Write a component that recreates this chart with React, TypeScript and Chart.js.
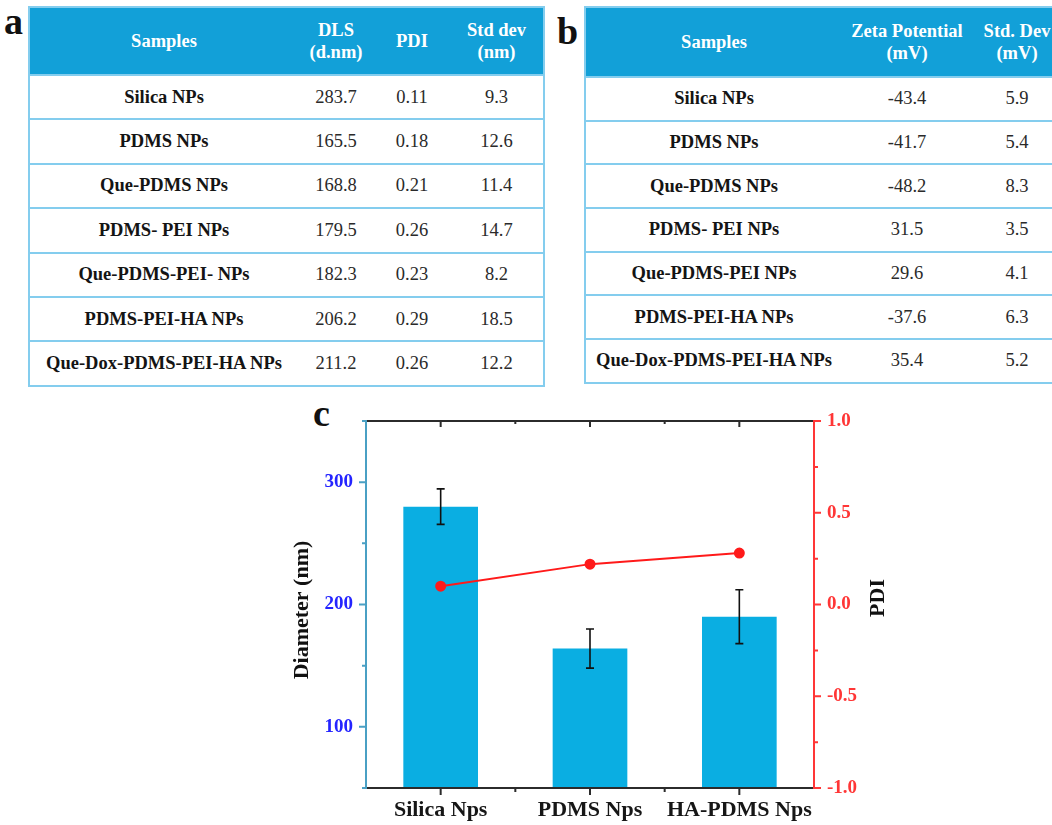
import React, { useEffect, useRef } from 'react';
import { Chart, registerables } from 'chart.js';

Chart.register(...registerables);

// ---- Table (a): DLS size, PDI and standard deviation ----
const tableAHeaders = ['Samples', 'DLS\n(d.nm)', 'PDI', 'Std dev\n(nm)'];
const tableASamples = [
  'Silica NPs',
  'PDMS NPs',
  'Que-PDMS NPs',
  'PDMS- PEI NPs',
  'Que-PDMS-PEI- NPs',
  'PDMS-PEI-HA NPs',
  'Que-Dox-PDMS-PEI-HA NPs',
];
const tableADls = ['283.7', '165.5', '168.8', '179.5', '182.3', '206.2', '211.2'];
const tableAPdi = ['0.11', '0.18', '0.21', '0.26', '0.23', '0.29', '0.26'];
const tableAStd = ['9.3', '12.6', '11.4', '14.7', '8.2', '18.5', '12.2'];

// ---- Table (b): zeta potential ----
const tableBHeaders = ['Samples', 'Zeta Potential\n(mV)', 'Std. Dev\n(mV)'];
const tableBSamples = [
  'Silica NPs',
  'PDMS NPs',
  'Que-PDMS NPs',
  'PDMS- PEI NPs',
  'Que-PDMS-PEI NPs',
  'PDMS-PEI-HA NPs',
  'Que-Dox-PDMS-PEI-HA NPs',
];
const tableBZeta = ['-43.4', '-41.7', '-48.2', '31.5', '29.6', '-37.6', '35.4'];
const tableBStd = ['5.9', '5.4', '8.3', '3.5', '4.1', '6.3', '5.2'];

// ---- Chart (c): diameter bars with error bars, PDI line ----
const categories = ['Silica Nps', 'PDMS Nps', 'HA-PDMS Nps'];
const diameters = [280, 164, 190];
const diameterErrors = [14.5, 16, 22];
const pdiValues = [0.1, 0.22, 0.28];

const SERIF = '"Liberation Serif", "Times New Roman", serif';
const HEADER_BG = '#12a0d8';
const TABLE_LINE = '#84cdee';
const BAR_COLOR = '#0aaee2';
const LEFT_AXIS_COLOR = '#4aa0c4';
const RIGHT_AXIS_COLOR = '#ff3636';
const PDI_COLOR = '#ff1a1a';

type TableProps = {
  left: number;
  top: number;
  width: number;
  headerHeight: number;
  rowHeight: number;
  colWidths: number[];
  headers: string[];
  rows: string[][];
  showRight: boolean;
};

function DataTable(props: TableProps) {
  const { left, top, width, headerHeight, rowHeight, colWidths, headers, rows, showRight } = props;
  return (
    <div
      style={{
        position: 'absolute',
        left,
        top,
        width,
        boxSizing: 'border-box',
        border: `2px solid ${TABLE_LINE}`,
        borderRight: showRight ? `2px solid ${TABLE_LINE}` : 'none',
        fontFamily: SERIF,
        fontSize: 18.5,
        background: '#fff',
      }}
    >
      <div style={{ display: 'flex', height: headerHeight, background: HEADER_BG }}>
        {headers.map((h, i) => (
          <div
            key={i}
            style={{
              width: colWidths[i],
              flex: 'none',
              display: 'flex',
              alignItems: 'center',
              justifyContent: 'center',
              textAlign: 'center',
              whiteSpace: 'pre',
              lineHeight: '22px',
              color: '#ffffff',
              fontWeight: 'bold',
            }}
          >
            {h}
          </div>
        ))}
      </div>
      {rows.map((r, ri) => (
        <div
          key={ri}
          style={{
            display: 'flex',
            height: rowHeight,
            boxSizing: 'border-box',
            borderTop: `2px solid ${TABLE_LINE}`,
          }}
        >
          {r.map((c, ci) => (
            <div
              key={ci}
              style={{
                width: colWidths[ci],
                flex: 'none',
                display: 'flex',
                alignItems: 'center',
                justifyContent: 'center',
                whiteSpace: 'pre',
                color: ci === 0 ? '#141414' : '#2a2a2a',
                fontWeight: ci === 0 ? 'bold' : 'normal',
              }}
            >
              {c}
            </div>
          ))}
        </div>
      ))}
    </div>
  );
}

// Axis frame, minor/major ticks, error bars and rotated axis titles
const framePlugin = {
  id: 'frame',
  afterDatasetDraw(chart: any, args: any) {
    const meta = args.meta;
    if (meta.type !== 'bar') return;
    const ctx = chart.ctx;
    const yScale = chart.scales.y;
    ctx.save();
    ctx.strokeStyle = '#111';
    ctx.lineWidth = 1.6;
    meta.data.forEach((el: any, i: number) => {
      const x = el.x;
      const yTop = yScale.getPixelForValue(diameters[i] + diameterErrors[i]);
      const yBot = yScale.getPixelForValue(diameters[i] - diameterErrors[i]);
      ctx.beginPath();
      ctx.moveTo(x, yTop);
      ctx.lineTo(x, yBot);
      ctx.moveTo(x - 4, yTop);
      ctx.lineTo(x + 4, yTop);
      ctx.moveTo(x - 4, yBot);
      ctx.lineTo(x + 4, yBot);
      ctx.stroke();
    });
    ctx.restore();
  },
  afterDraw(chart: any) {
    const ctx = chart.ctx;
    const { left, right, top, bottom } = chart.chartArea;
    const xs = chart.scales.x;
    const yL = chart.scales.y;
    const yR = chart.scales.y1;
    ctx.save();
    ctx.lineCap = 'butt';

    // top and bottom axes
    ctx.strokeStyle = '#2b2b2b';
    ctx.lineWidth = 2;
    ctx.beginPath();
    ctx.moveTo(left, bottom);
    ctx.lineTo(right, bottom);
    ctx.moveTo(left, top);
    ctx.lineTo(right, top);
    const n = categories.length;
    const step = (right - left) / n;
    for (let i = 0; i < n; i++) {
      const cx = xs.getPixelForValue(i);
      ctx.moveTo(cx, bottom);
      ctx.lineTo(cx, bottom + 7);
      ctx.moveTo(cx, top);
      ctx.lineTo(cx, top + 6);
    }
    for (let k = 1; k < n; k++) {
      const bx = left + k * step;
      ctx.moveTo(bx, bottom);
      ctx.lineTo(bx, bottom + 4);
      ctx.moveTo(bx, top);
      ctx.lineTo(bx, top + 3);
    }
    ctx.stroke();

    // left axis
    ctx.strokeStyle = LEFT_AXIS_COLOR;
    ctx.beginPath();
    ctx.moveTo(left, top - 1);
    ctx.lineTo(left, bottom + 1);
    for (let v = yL.min; v <= yL.max + 1e-6; v += 50) {
      const y = yL.getPixelForValue(v);
      const len = v % 100 === 0 ? 7 : 4;
      ctx.moveTo(left - len, y);
      ctx.lineTo(left, y);
    }
    ctx.stroke();

    // right axis
    ctx.strokeStyle = RIGHT_AXIS_COLOR;
    ctx.beginPath();
    ctx.moveTo(right, top - 1);
    ctx.lineTo(right, bottom + 1);
    for (let k = 0; k <= 8; k++) {
      const v = -1 + k * 0.25;
      const y = yR.getPixelForValue(v);
      const len = k % 2 === 0 ? 7 : 4;
      ctx.moveTo(right, y);
      ctx.lineTo(right + len, y);
    }
    ctx.stroke();

    // axis titles, reading bottom-to-top on both sides
    ctx.fillStyle = '#111';
    ctx.font = `bold 22px ${SERIF}`;
    ctx.textAlign = 'center';
    ctx.textBaseline = 'middle';
    ctx.save();
    ctx.translate(32, 215);
    ctx.rotate(-Math.PI / 2);
    ctx.fillText('Diameter (nm)', 0, 0);
    ctx.restore();
    ctx.save();
    ctx.translate(608, 203);
    ctx.rotate(-Math.PI / 2);
    ctx.fillText('PDI', 0, 0);
    ctx.restore();

    ctx.restore();
  },
};

function ComboChart() {
  const ref = useRef<HTMLCanvasElement | null>(null);
  useEffect(() => {
    if (!ref.current) return;
    const tickFont = { family: SERIF, size: 19, weight: 'bold' as const };
    const chart = new Chart(ref.current, {
      type: 'bar',
      data: {
        labels: categories,
        datasets: [
          {
            type: 'line' as const,
            label: 'PDI',
            data: pdiValues,
            yAxisID: 'y1',
            borderColor: PDI_COLOR,
            backgroundColor: PDI_COLOR,
            borderWidth: 2,
            pointRadius: 4.5,
            pointBackgroundColor: PDI_COLOR,
            pointBorderColor: PDI_COLOR,
            tension: 0,
            order: 0,
          },
          {
            type: 'bar' as const,
            label: 'Diameter',
            data: diameters,
            yAxisID: 'y',
            backgroundColor: BAR_COLOR,
            borderWidth: 0,
            barPercentage: 0.5,
            categoryPercentage: 1,
            order: 1,
          },
        ],
      },
      options: {
        responsive: false,
        animation: false,
        devicePixelRatio: 1,
        layout: { padding: { top: 26, left: 0, right: 0, bottom: 0 } },
        plugins: { legend: { display: false }, tooltip: { enabled: false } },
        scales: {
          x: {
            type: 'category',
            offset: true,
            grid: { display: false, drawTicks: false },
            border: { display: false },
            ticks: {
              padding: 9,
              color: '#161616',
              maxRotation: 0,
              autoSkip: false,
              font: { family: SERIF, size: 22, weight: 'bold' },
            },
            afterFit: (s: any) => {
              s.height = 37;
            },
          },
          y: {
            position: 'left',
            min: 50,
            max: 350,
            grid: { display: false, drawTicks: false },
            border: { display: false },
            ticks: {
              stepSize: 50,
              padding: 13,
              color: '#2424ff',
              font: tickFont,
              callback: (v: any) => (Number(v) % 100 === 0 ? String(v) : ''),
            },
            afterFit: (s: any) => {
              s.width = 96;
            },
          },
          y1: {
            position: 'right',
            min: -1,
            max: 1,
            grid: { display: false, drawTicks: false },
            border: { display: false },
            ticks: {
              stepSize: 0.25,
              padding: 13,
              color: RIGHT_AXIS_COLOR,
              font: tickFont,
              callback: (v: any) => {
                const n = Number(v);
                return Math.abs(n * 2 - Math.round(n * 2)) < 1e-6 ? n.toFixed(1) : '';
              },
            },
            afterFit: (s: any) => {
              s.width = 116;
            },
          },
        },
      },
      plugins: [framePlugin],
    });
    return () => chart.destroy();
  }, []);
  return (
    <canvas
      ref={ref}
      width={660}
      height={430}
      style={{ position: 'absolute', left: 270, top: 395, width: 660, height: 430 }}
    />
  );
}

const panelLabel = (text: string, left: number, top: number) => (
  <div
    style={{
      position: 'absolute',
      left,
      top,
      fontFamily: SERIF,
      fontWeight: 'bold',
      fontSize: 38,
      lineHeight: '38px',
      color: '#111',
    }}
  >
    {text}
  </div>
);

export default function App() {
  const rowsA = tableASamples.map((s, i) => [s, tableADls[i], tableAPdi[i], tableAStd[i]]);
  const rowsB = tableBSamples.map((s, i) => [s, tableBZeta[i], tableBStd[i]]);
  return (
    <div
      style={{
        position: 'absolute',
        left: 0,
        top: 0,
        width: 1052,
        height: 825,
        overflow: 'hidden',
        background: '#fff',
      }}
    >
      <DataTable
        left={28}
        top={6}
        width={517}
        headerHeight={66}
        rowHeight={44.4}
        colWidths={[268, 76, 76, 93]}
        headers={tableAHeaders}
        rows={rowsA}
        showRight={true}
      />
      <DataTable
        left={584}
        top={6}
        width={480}
        headerHeight={68}
        rowHeight={43.7}
        colWidths={[256, 130, 90]}
        headers={tableBHeaders}
        rows={rowsB}
        showRight={false}
      />
      {panelLabel('a', 4, 2)}
      {panelLabel('b', 557, 12)}
      {panelLabel('c', 313, 394)}
      <ComboChart />
    </div>
  );
}
